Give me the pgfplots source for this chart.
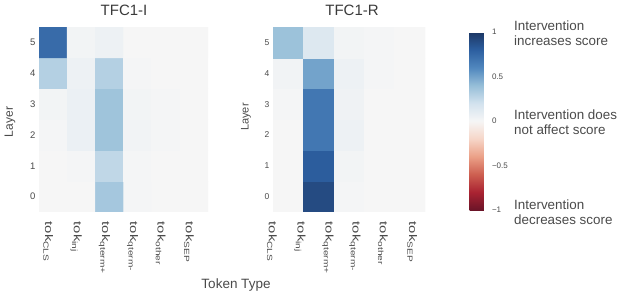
\documentclass[border=0pt]{standalone}
\usepackage{pgfplots}
\pgfplotsset{compat=1.18}
\usepackage{fontspec}
\setmainfont{Liberation Sans}
\definecolor{txt}{HTML}{4A4A4A}
\definecolor{ttl}{HTML}{3A3A3A}
\newcommand{\tk}[1]{\fontsize{11}{11}\selectfont tok\raisebox{-0.3ex}{\fontsize{7.5}{7.5}\selectfont #1}}
\pgfplotsset{
  colormap={rdbu}{rgb255=(107,20,40) rgb255=(170,35,50) rgb255=(205,95,80) rgb255=(235,160,135) rgb255=(246,214,200) rgb255=(246,246,246) rgb255=(210,226,238) rgb255=(150,190,216) rgb255=(80,135,190) rgb255=(45,95,160) rgb255=(28,55,100)},
  hm/.style={
    scale only axis, height=185pt,
    axis line style={draw=none}, tick style={draw=none},
    enlargelimits=false,
    ymin=-0.5, ymax=5.5, ytick={0,1,2,3,4,5},
    point meta min=-1, point meta max=1,
    /pgf/number format/assume math mode=true,
    xticklabels={\tk{CLS},\tk{inj},\tk{qterm+},\tk{qterm-},\tk{other},\tk{SEP}},
    xticklabel style={rotate=-90, anchor=west, text=txt, xshift=5pt, yshift=-5pt, xscale=1.35},
    yticklabel style={font=\fontsize{9.5}{9.5}\selectfont, text=txt},
  }
}
\pgfplotstableread{
x y v
0 0 0
1 0 0
2 0 0.35
3 0 0.01
4 0 0
5 0 0
0 1 0
1 1 0.01
2 1 0.26
3 1 0.01
4 1 0
5 1 0
0 2 0.01
1 2 0.06
2 2 0.37
3 2 0.03
4 2 0.01
5 2 0
0 3 0.02
1 3 0.06
2 3 0.37
3 3 0.02
4 3 0.01
5 3 0
0 4 0.30
1 4 0.05
2 4 0.30
3 4 0.01
4 4 0
5 4 0
0 5 0.74
1 5 0.02
2 5 0.05
3 5 0
4 5 0
5 5 0
}\tabI
\pgfplotstableread{
x y v
0 0 0
1 0 0.90
2 0 0.01
3 0 0
4 0 0
5 0 0
0 1 0
1 1 0.81
2 1 0.02
3 1 0
4 1 0
5 1 0
0 2 0
1 2 0.68
2 2 0.05
3 2 0
4 2 0
5 2 0
0 3 0.01
1 3 0.68
2 3 0.04
3 3 0
4 3 0
5 3 0
0 4 0.03
1 4 0.50
2 4 0.05
3 4 0.01
4 4 0
5 4 0
0 5 0.38
1 5 0.14
2 5 0.02
3 5 0.01
4 5 0
5 5 0
}\tabR
\begin{document}
\begin{tikzpicture}
\useasboundingbox (0,0) rectangle (620pt,296pt);
\begin{axis}[hm, at={(39pt,84pt)}, anchor=south west, width=169pt,
  xmin=-0.5, xmax=5.5, xtick={0,1,2,3,4,5}]
\addplot[matrix plot*, mesh/cols=6, point meta=explicit] table[meta=v] {\tabI};
\end{axis}
\begin{axis}[hm, at={(273pt,84pt)}, anchor=south west, width=152pt,
  xmin=-0.5, xmax=4.5, xtick={-0.37,0.55,1.47,2.36,3.28,4.24},
  yticklabel style={font=\fontsize{8.5}{8.5}\selectfont},
  colorbar,
  colorbar style={
    at={(parent axis.north east)}, anchor=north west,
    xshift=36pt, yshift=-5pt,
    scale only axis, width=21pt, height=178pt,
    axis line style={draw=none}, tick style={draw=none},
    ytick={-1,-0.5,0,0.5,1},
    yticklabels={−1,−0.5,0,0.5,1},
    yticklabel style={font=\fontsize{8}{8}\selectfont, text=txt, xshift=-2pt},
  }]
\addplot[matrix plot*, mesh/cols=6, point meta=explicit] table[meta=v] {\tabR};
\end{axis}
\node[text=ttl, font=\fontsize{15}{15}\selectfont] at (124pt,286pt) {TFC1-I};
\node[text=ttl, font=\fontsize{15}{15}\selectfont] at (352pt,286pt) {TFC1-R};
\node[text=txt, rotate=90, font=\fontsize{12}{12}\selectfont] at (10pt,174pt) {Layer};
\node[text=txt, rotate=90, font=\fontsize{11}{11}\selectfont] at (246pt,179pt) {Layer};
\node[text=txt, font=\fontsize{13.5}{13.5}\selectfont] at (236pt,11pt) {Token Type};
\node[text=txt, anchor=west, align=left, font=\fontsize{13.4}{15}\selectfont, inner sep=0pt] at (514pt,263pt) {Intervention\\increases score};
\node[text=txt, anchor=west, align=left, font=\fontsize{13.4}{15}\selectfont, inner sep=0pt] at (514pt,174pt) {Intervention does\\not affect score};
\node[text=txt, anchor=west, align=left, font=\fontsize{13.4}{15}\selectfont, inner sep=0pt] at (514pt,84pt) {Intervention\\decreases score};
\end{tikzpicture}
\end{document}
